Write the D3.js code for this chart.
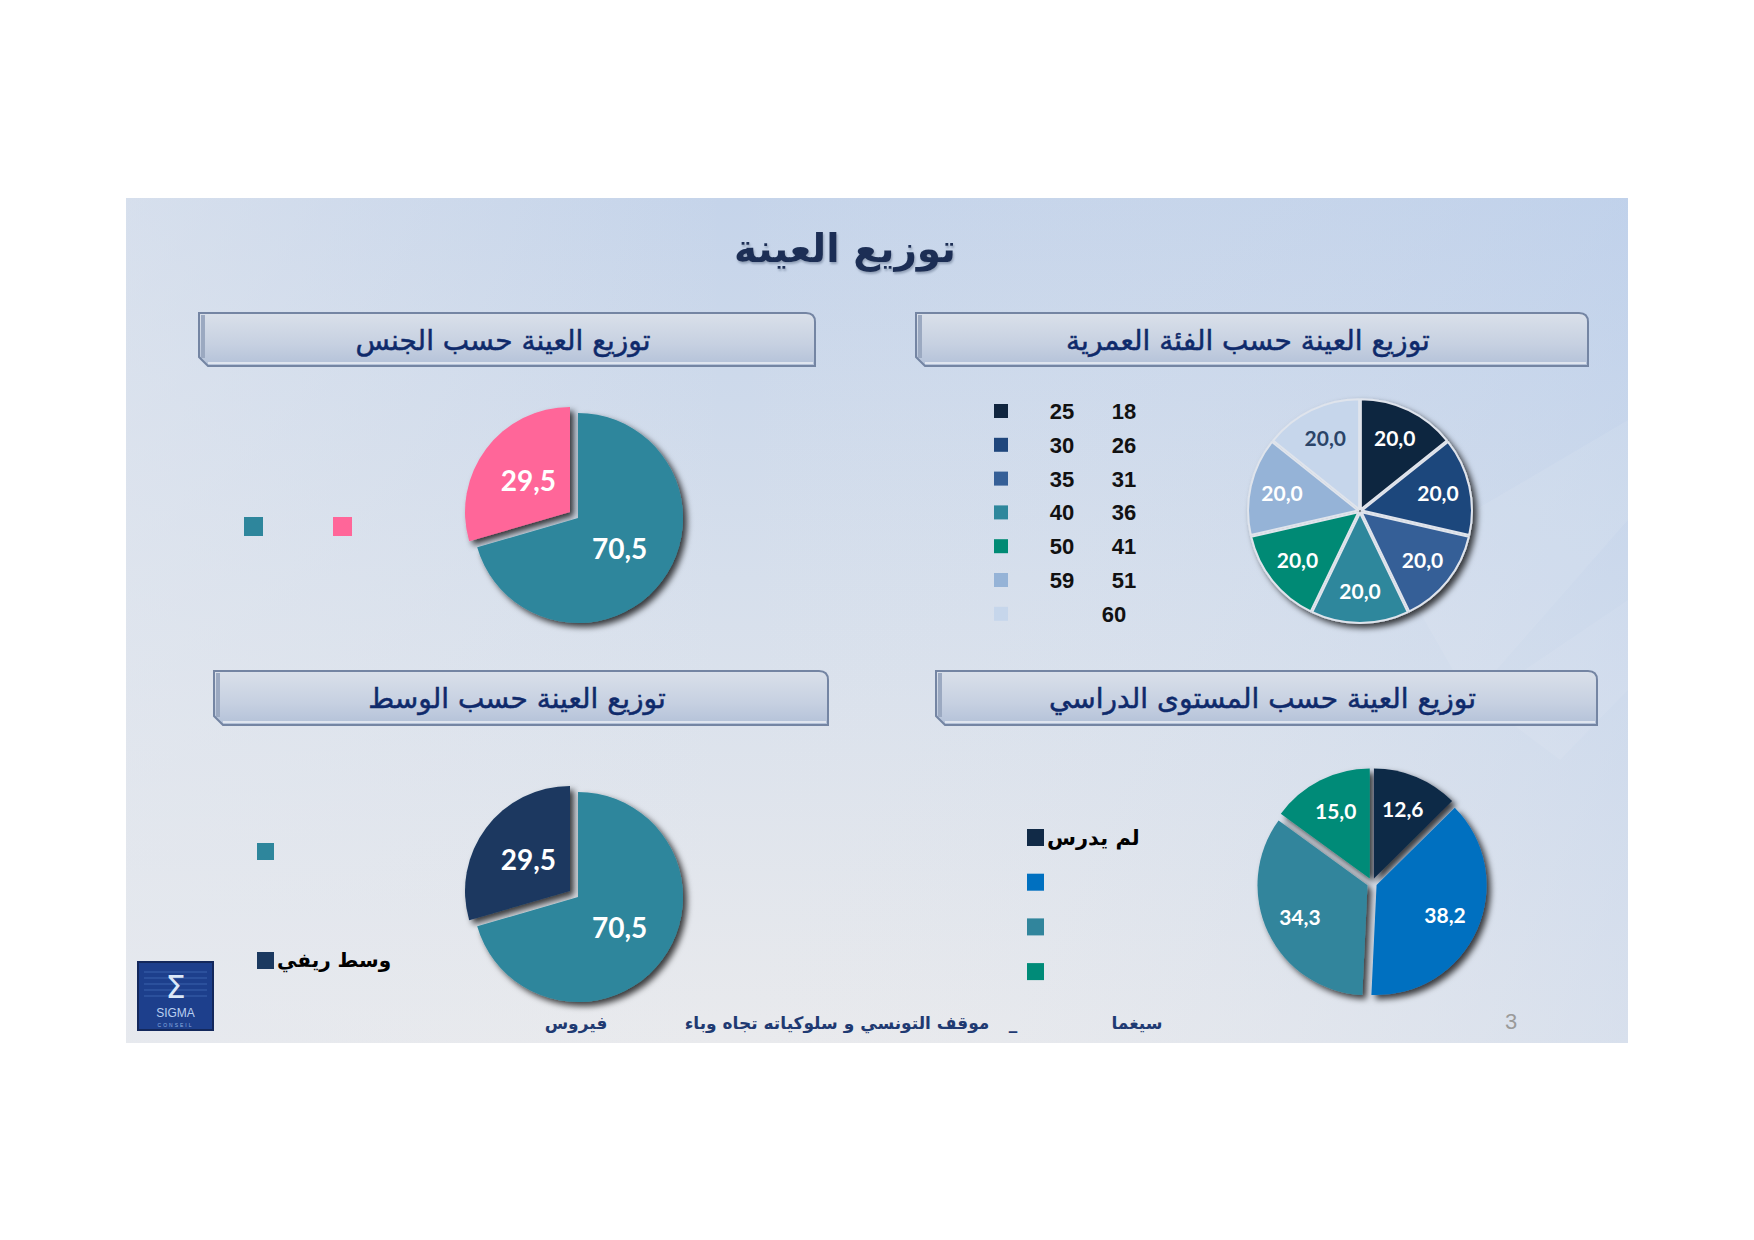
<!DOCTYPE html>
<html lang="ar">
<head>
<meta charset="UTF-8">
<title>توزيع العينة</title>
<style>
  html, body { margin: 0; padding: 0; background: #ffffff; }
  svg { display: block; }
</style>
</head>
<body>
<svg id="chart"></svg>

<script src="https://cdn.jsdelivr.net/npm/d3@7"></script>
<script>
    // ---- data ----
    var title = "توزيع العينة";
    var panelTitles = ["توزيع العينة حسب الجنس", "توزيع العينة حسب الفئة العمرية",
                       "توزيع العينة حسب الوسط", "توزيع العينة حسب المستوى الدراسي"];

    var genderLabels = ["", ""];          // legend text is blank on the slide
    var genderValues = [70.5, 29.5];
    var genderColors = ["#2e869c", "#ff6699"];

    var milieuLabels = ["", "وسط ريفي"];
    var milieuValues = [70.5, 29.5];
    var milieuColors = ["#2e869c", "#1b3960"];

    var ageFrom = ["18", "26", "31", "36", "41", "51", "60"];
    var ageTo   = ["25", "30", "35", "40", "50", "59", ""];
    var ageValues = [20.0, 20.0, 20.0, 20.0, 20.0, 20.0, 20.0];
    var ageColors = ["#10253f", "#1f467c", "#355f97", "#2e879c", "#008a74", "#95b3d7", "#c6d6eb"];

    var eduLabels = ["لم يدرس", "", "", ""];
    var eduValues = [12.6, 38.2, 34.3, 15.0];
    var eduColors = ["#112a47", "#0070c0", "#31859c", "#008b78"];

    var footer = ["فيروس", "موقف التونسي و سلوكياته تجاه وباء", "_", "سيغما"];
    var pageNo = "3";

    // ---- canvas ----
    var width = 1754, height = 1240;
    var arabic = "'DejaVu Sans', sans-serif";
    var digits = "Lato, 'Open Sans', sans-serif";

    var svg = d3.select("#chart")
        .attr("width", width)
        .attr("height", height);

    var defs = svg.append("defs");

    var bg = defs.append("linearGradient").attr("id", "bg")
        .attr("x1", 0).attr("y1", 0).attr("x2", 0).attr("y2", 1);
    bg.append("stop").attr("offset", "0%").attr("stop-color", "#c5d4ea");
    bg.append("stop").attr("offset", "45%").attr("stop-color", "#d6dfec");
    bg.append("stop").attr("offset", "100%").attr("stop-color", "#e9eaed");

    var side = defs.append("linearGradient").attr("id", "side")
        .attr("x1", 0).attr("y1", 0).attr("x2", 1).attr("y2", 0);
    side.append("stop").attr("offset", "0%").attr("stop-color", "#e4e8ef").attr("stop-opacity", 0.55);
    side.append("stop").attr("offset", "40%").attr("stop-color", "#e4e8ef").attr("stop-opacity", 0);
    side.append("stop").attr("offset", "100%").attr("stop-color", "#b8cdec").attr("stop-opacity", 0.35);

    var box = defs.append("linearGradient").attr("id", "box")
        .attr("x1", 0).attr("y1", 0).attr("x2", 0).attr("y2", 1);
    box.append("stop").attr("offset", "0%").attr("stop-color", "#dae0ea");
    box.append("stop").attr("offset", "60%").attr("stop-color", "#c6d0e1");
    box.append("stop").attr("offset", "100%").attr("stop-color", "#b3c1d8");

    var shadow = defs.append("filter").attr("id", "shadow")
        .attr("x", "-20%").attr("y", "-20%").attr("width", "150%").attr("height", "150%");
    shadow.append("feDropShadow")
        .attr("dx", 4).attr("dy", 4).attr("stdDeviation", 3)
        .attr("flood-color", "#000").attr("flood-opacity", 0.75);

    var soft = defs.append("filter").attr("id", "soft");
    soft.append("feDropShadow")
        .attr("dx", 1).attr("dy", 2).attr("stdDeviation", 1)
        .attr("flood-color", "#6b7a94").attr("flood-opacity", 0.6);

    // slide background
    svg.append("rect").attr("x", 126).attr("y", 198).attr("width", 1502).attr("height", 845)
        .attr("fill", "url(#bg)");
    svg.append("rect").attr("x", 126).attr("y", 198).attr("width", 1502).attr("height", 845)
        .attr("fill", "url(#side)");
    // faint diagonal light bands on the right
    svg.append("path").attr("d", "M1390,560 L1628,420 L1628,520 L1470,700 Z")
        .attr("fill", "#ffffff").attr("opacity", 0.08);
    svg.append("path").attr("d", "M1480,700 L1628,600 L1628,690 L1560,760 Z")
        .attr("fill", "#ffffff").attr("opacity", 0.07);

    // main title
    svg.append("text")
        .attr("x", 845).attr("y", 262)
        .attr("text-anchor", "middle")
        .attr("font-family", arabic).attr("font-weight", "bold").attr("font-size", 39)
        .attr("fill", "#1c2f55")
        .attr("filter", "url(#soft)")
        .text(title);

    // ---- panel header boxes ----
    var boxes = [
        {x: 199, y: 313, w: 616, h: 53},
        {x: 916, y: 313, w: 672, h: 53},
        {x: 214, y: 671, w: 614, h: 54},
        {x: 936, y: 671, w: 661, h: 54}
    ];

    function boxPath(b) {
        var x0 = b.x, y0 = b.y, x1 = b.x + b.w, y1 = b.y + b.h, c = 9;
        return "M" + x0 + "," + y0 +
            " L" + (x1 - c) + "," + y0 +
            " Q" + x1 + "," + y0 + " " + x1 + "," + (y0 + c) +
            " L" + x1 + "," + y1 +
            " L" + (x0 + c) + "," + y1 +
            " L" + x0 + "," + (y1 - c) + " Z";
    }

    var head = svg.selectAll("g.head")
        .data(boxes)
        .enter()
        .append("g")
        .attr("class", "head");

    head.append("path")
        .attr("d", boxPath)
        .attr("fill", "url(#box)")
        .attr("stroke", "#7485a3")
        .attr("stroke-width", 2);

    head.append("line")   // bevel on the bottom edge
        .attr("x1", function(d){ return d.x + 9; })
        .attr("x2", function(d){ return d.x + d.w - 2; })
        .attr("y1", function(d){ return d.y + d.h - 3; })
        .attr("y2", function(d){ return d.y + d.h - 3; })
        .attr("stroke", "#dfe5ef").attr("stroke-width", 2);

    head.append("line")   // bevel on the left edge
        .attr("x1", function(d){ return d.x + 4; })
        .attr("x2", function(d){ return d.x + 4; })
        .attr("y1", function(d){ return d.y + 2; })
        .attr("y2", function(d){ return d.y + d.h - 8; })
        .attr("stroke", "#9ba9c1").attr("stroke-width", 4);

    head.append("text")
        .attr("x", function(d){ return d.x + d.w / 2 - 4; })
        .attr("y", function(d){ return d.y + d.h / 2 + 10; })
        .attr("text-anchor", "middle")
        .attr("font-family", arabic).attr("font-size", 28)
        .attr("fill", "#0f2a6b")
        .attr("stroke", "#0f2a6b").attr("stroke-width", 0.5)
        .text(function(d, i){ return panelTitles[i]; });

    // ---- pies ----
    var locale = d3.formatLocale({decimal: ",", thousands: " ", grouping: [3], currency: ["", ""]});
    var fmt = locale.format(".1f");

    var pie = d3.pie().sort(null).value(function(d){ return d; });

    function drawPie(cx, cy, r, values, colors, explode, labelR, labelColors, fontSize, strokeColor) {
        var g = svg.append("g")
            .attr("transform", "translate(" + cx + "," + cy + ")")
            .attr("filter", "url(#shadow)");
        var arc = d3.arc().innerRadius(0).outerRadius(r);
        var arcs = pie(values);

        function shift(d, i, extra) {
            var mid = (d.startAngle + d.endAngle) / 2;
            var e = explode[i] + extra;
            return [Math.sin(mid) * e, -Math.cos(mid) * e];
        }

        g.selectAll("path")
            .data(arcs)
            .enter()
            .append("path")
            .attr("d", arc)
            .attr("transform", function(d, i){
                var p = shift(d, i, 0);
                return "translate(" + p[0] + "," + p[1] + ")";
            })
            .attr("fill", function(d, i){ return colors[i]; })
            .attr("stroke", strokeColor || "none")
            .attr("stroke-width", strokeColor ? 2 : 0)
            .attr("stroke-linejoin", "round");

        var lg = svg.append("g")
            .attr("transform", "translate(" + cx + "," + cy + ")");
        lg.selectAll("text")
            .data(arcs)
            .enter()
            .append("text")
            .attr("x", function(d, i){ return shift(d, i, labelR)[0]; })
            .attr("y", function(d, i){ return shift(d, i, labelR)[1]; })
            .attr("dy", "0.36em")
            .attr("text-anchor", "middle")
            .attr("font-family", digits).attr("font-weight", "bold").attr("font-size", fontSize)
            .attr("fill", function(d, i){ return labelColors[i]; })
            .text(function(d){ return fmt(d.data); });
    }

    drawPie(578, 518, 105, genderValues, genderColors, [0, 10], 52, ["#fff", "#fff"], 28);
    drawPie(578, 897, 105, milieuValues, milieuColors, [0, 10], 52, ["#fff", "#fff"], 28);
    drawPie(1360, 511, 110, ageValues, ageColors, [2, 2, 2, 2, 2, 2, 2], 78,
        ["#fff", "#fff", "#fff", "#fff", "#fff", "#fff", "#2b4468"], 21, "#dfe4ec");
    drawPie(1372, 883, 110, eduValues, eduColors, [5, 5, 5, 5], 75,
        ["#fff", "#fff", "#fff", "#fff"], 21);

    // ---- legends ----
    // gender: two swatches side by side
    svg.selectAll("rect.gleg")
        .data(genderColors)
        .enter()
        .append("rect")
        .attr("class", "gleg")
        .attr("x", function(d, i){ return 244 + i * 89; })
        .attr("y", 517)
        .attr("width", 19).attr("height", 19)
        .attr("fill", function(d){ return d; });

    // milieu: stacked swatches, label to the right
    var ml = svg.selectAll("g.mleg")
        .data(milieuColors)
        .enter()
        .append("g")
        .attr("class", "mleg")
        .attr("transform", function(d, i){ return "translate(257," + (843 + i * 109) + ")"; });
    ml.append("rect").attr("width", 17).attr("height", 17)
        .attr("fill", function(d){ return d; });
    ml.append("text")
        .attr("x", 20).attr("y", 15)
        .attr("direction", "rtl").attr("text-anchor", "end")
        .attr("font-family", arabic).attr("font-weight", "bold").attr("font-size", 20)
        .attr("fill", "#000")
        .text(function(d, i){ return milieuLabels[i]; });

    // age: swatch + two numbers per row
    var al = svg.selectAll("g.aleg")
        .data(ageColors)
        .enter()
        .append("g")
        .attr("class", "aleg")
        .attr("transform", function(d, i){ return "translate(994," + (404 + i * 33.8) + ")"; });
    al.append("rect").attr("width", 14).attr("height", 14)
        .attr("fill", function(d){ return d; });
    al.append("text")
        .attr("x", 68).attr("y", 15)
        .attr("text-anchor", "middle")
        .attr("font-family", "'Liberation Sans', Arial, sans-serif").attr("font-weight", "bold").attr("font-size", 22)
        .attr("fill", "#111")
        .text(function(d, i){ return ageTo[i]; });
    al.append("text")
        .attr("x", function(d, i){ return ageTo[i] ? 130 : 120; })
        .attr("y", 15)
        .attr("text-anchor", "middle")
        .attr("font-family", "'Liberation Sans', Arial, sans-serif").attr("font-weight", "bold").attr("font-size", 22)
        .attr("fill", "#111")
        .text(function(d, i){ return ageFrom[i]; });

    // education: stacked swatches
    var el = svg.selectAll("g.eleg")
        .data(eduColors)
        .enter()
        .append("g")
        .attr("class", "eleg")
        .attr("transform", function(d, i){ return "translate(1027," + (829 + i * 44.7) + ")"; });
    el.append("rect").attr("width", 17).attr("height", 17)
        .attr("fill", function(d){ return d; });
    el.append("text")
        .attr("x", 20).attr("y", 16)
        .attr("direction", "rtl").attr("text-anchor", "end")
        .attr("font-family", arabic).attr("font-weight", "bold").attr("font-size", 21)
        .attr("fill", "#000")
        .text(function(d, i){ return eduLabels[i]; });

    // ---- logo ----
    var logo = svg.append("g").attr("transform", "translate(138,962)");
    logo.append("rect").attr("width", 75).attr("height", 68)
        .attr("fill", "#1d3f8c").attr("stroke", "#13285c").attr("stroke-width", 2);
    [10, 16, 22, 28, 34].forEach(function(y){
        logo.append("line").attr("x1", 6).attr("x2", 69).attr("y1", y).attr("y2", y)
            .attr("stroke", "#3a62ac").attr("stroke-width", 1);
    });
    logo.append("text").attr("x", 37.5).attr("y", 36).attr("text-anchor", "middle")
        .attr("font-family", "'DejaVu Sans', sans-serif").attr("font-size", 32)
        .attr("fill", "#dbe8f8").text("Σ");
    logo.append("text").attr("x", 37.5).attr("y", 55).attr("text-anchor", "middle")
        .attr("font-family", "'Liberation Sans', sans-serif").attr("font-size", 12)
        .attr("fill", "#b9cff0").text("SIGMA");
    logo.append("text").attr("x", 37.5).attr("y", 65).attr("text-anchor", "middle")
        .attr("font-family", "'Liberation Sans', sans-serif").attr("font-size", 5)
        .attr("letter-spacing", 2).attr("fill", "#8fb0e0").text("CONSEIL");

    // ---- footer ----
    var footX = [576, 837, 1013, 1137];
    svg.selectAll("text.foot")
        .data(footer)
        .enter()
        .append("text")
        .attr("class", "foot")
        .attr("x", function(d, i){ return footX[i]; })
        .attr("y", 1029)
        .attr("text-anchor", "middle")
        .attr("font-family", arabic).attr("font-weight", "bold").attr("font-size", 17)
        .attr("fill", "#1f3a72")
        .text(function(d){ return d; });

    svg.append("text")
        .attr("x", 1511).attr("y", 1029)
        .attr("text-anchor", "middle")
        .attr("font-family", "'Liberation Sans', sans-serif").attr("font-size", 22)
        .attr("fill", "#9a9a9a")
        .text(pageNo);
</script>
</body>
</html>
